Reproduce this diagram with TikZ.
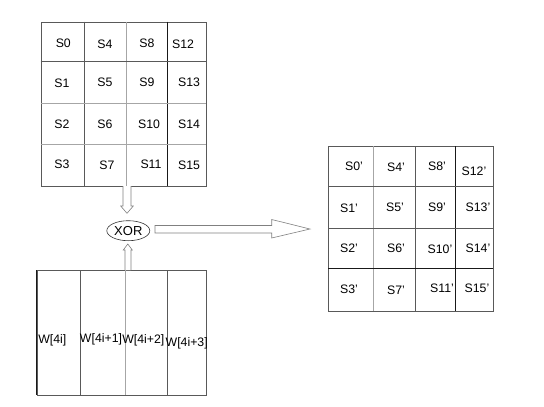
\documentclass[tikz,border=0pt]{standalone}
\usepackage{fontspec}
\setmainfont{Liberation Sans}
\usetikzlibrary{shapes.geometric}
\begin{document}
\begin{tikzpicture}[x=1pt,y=-1pt,
  lbl/.style={inner sep=0pt, font=\fontsize{12.3}{14}\selectfont},
  gridline/.style={draw=black!65, line width=0.8pt},
  lightline/.style={draw=black!35, line width=0.8pt},
  darkline/.style={draw=black!90, line width=0.8pt},
  blockarrow/.style={draw=black!50, fill=white, line width=0.6pt, line join=miter}]
\useasboundingbox (0,0) rectangle (544,407);
% top grid
\node[gridline, rectangle, minimum width=165pt, minimum height=164.3pt, anchor=north west, inner sep=0pt] (top) at (40.7,21.7) {};
\draw[gridline] (84.3,21.7) -- (84.3,186);
\draw[lightline] (126.7,21.7) -- (126.7,186);
\draw[darkline] (167.3,21.7) -- (167.3,186);
\draw[gridline] (40.7,61.7) -- (205.7,61.7);
\draw[lightline] (40.7,103.3) -- (205.7,103.3);
\draw[lightline] (40.7,144.3) -- (205.7,144.3);
\node[lbl] (s0) at (63.3,43.3) {S0};
\node[lbl] (s4) at (105,44) {S4};
\node[lbl] (s8) at (147,43) {S8};
\node[lbl] (s12) at (183,44.5) {S12};
\node[lbl] (s1) at (62,83) {S1};
\node[lbl] (s5) at (105,82) {S5};
\node[lbl] (s9) at (147,82) {S9};
\node[lbl] (s13) at (189,82) {S13};
\node[lbl] (s2) at (62,124) {S2};
\node[lbl] (s6) at (105,124) {S6};
\node[lbl] (s10) at (149,124.5) {S10};
\node[lbl] (s14) at (189,124) {S14};
\node[lbl] (s3) at (62,164) {S3};
\node[lbl] (s7) at (107,165) {S7};
\node[lbl] (s11) at (151,164) {S11};
\node[lbl] (s15) at (189,165) {S15};
% bottom grid
\node[gridline, rectangle, minimum width=169pt, minimum height=125pt, anchor=north west, inner sep=0pt] (w) at (36.7,270) {};
\draw[gridline] (80.7,270) -- (80.7,395);
\draw[lightline] (125,270) -- (125,395);
\draw[gridline] (167.3,270) -- (167.3,395);
\draw[darkline] (36.7,270) -- (36.7,395);
\node[lbl] (w0) at (52.3,340.5) {W[4i]};
\node[lbl] (w1) at (101,339) {W[4i+1]};
\node[lbl] (w2) at (143.3,340) {W[4i+2]};
\node[lbl] (w3) at (186.7,343) {W[4i+3]};
% right grid
\node[gridline, rectangle, minimum width=165pt, minimum height=164.7pt, anchor=north west, inner sep=0pt] (out) at (328.3,146) {};
\draw[lightline] (373.3,146) -- (373.3,310.7);
\draw[gridline] (415.7,146) -- (415.7,310.7);
\draw[darkline] (455.7,146) -- (455.7,310.7);
\draw[gridline] (328.3,186.7) -- (493.3,186.7);
\draw[gridline] (328.3,228.3) -- (493.3,228.3);
\draw[darkline] (328.3,268.3) -- (493.3,268.3);
\node[lbl] (t0) at (354,166.7) {S0'};
\node[lbl] (t4) at (396,167) {S4'};
\node[lbl] (t8) at (437,166) {S8'};
\node[lbl] (t12) at (474,171) {S12'};
\node[lbl] (t1) at (349,208) {S1'};
\node[lbl] (t5) at (395,207) {S5'};
\node[lbl] (t9) at (437,207) {S9'};
\node[lbl] (t13) at (478,207) {S13'};
\node[lbl] (t2) at (349,248) {S2'};
\node[lbl] (t6) at (396,248) {S6'};
\node[lbl] (t10) at (440,249) {S10'};
\node[lbl] (t14) at (478,248) {S14'};
\node[lbl] (t3) at (349,289) {S3'};
\node[lbl] (t7) at (396,290) {S7'};
\node[lbl] (t11) at (442,288) {S11'};
\node[lbl] (t15) at (477,288) {S15'};
% XOR
\node[ellipse, draw=black!80, line width=0.6pt, minimum width=43pt, minimum height=20pt, inner sep=0pt, font=\fontsize{13}{15}\selectfont] (xor) at (128.3,230.7) {XOR};
% down block arrow: top -> xor
\draw[blockarrow] (123,186) -- (123,206) -- (120.7,206) -- (127,213.3) -- (133.3,206) -- (131,206) -- (131,186);
% up block arrow: w -> xor
\draw[blockarrow] (125,270) -- (125,250) -- (123.3,250) -- (127.8,244) -- (132.3,250) -- (131,250) -- (131,270);
% right block arrow: xor -> out
\draw[blockarrow] (155,225.5) -- (271.7,225.5) -- (271.7,219.5) -- (310,229) -- (271.7,238) -- (271.7,233) -- (155,233) -- cycle;
\end{tikzpicture}
\end{document}
